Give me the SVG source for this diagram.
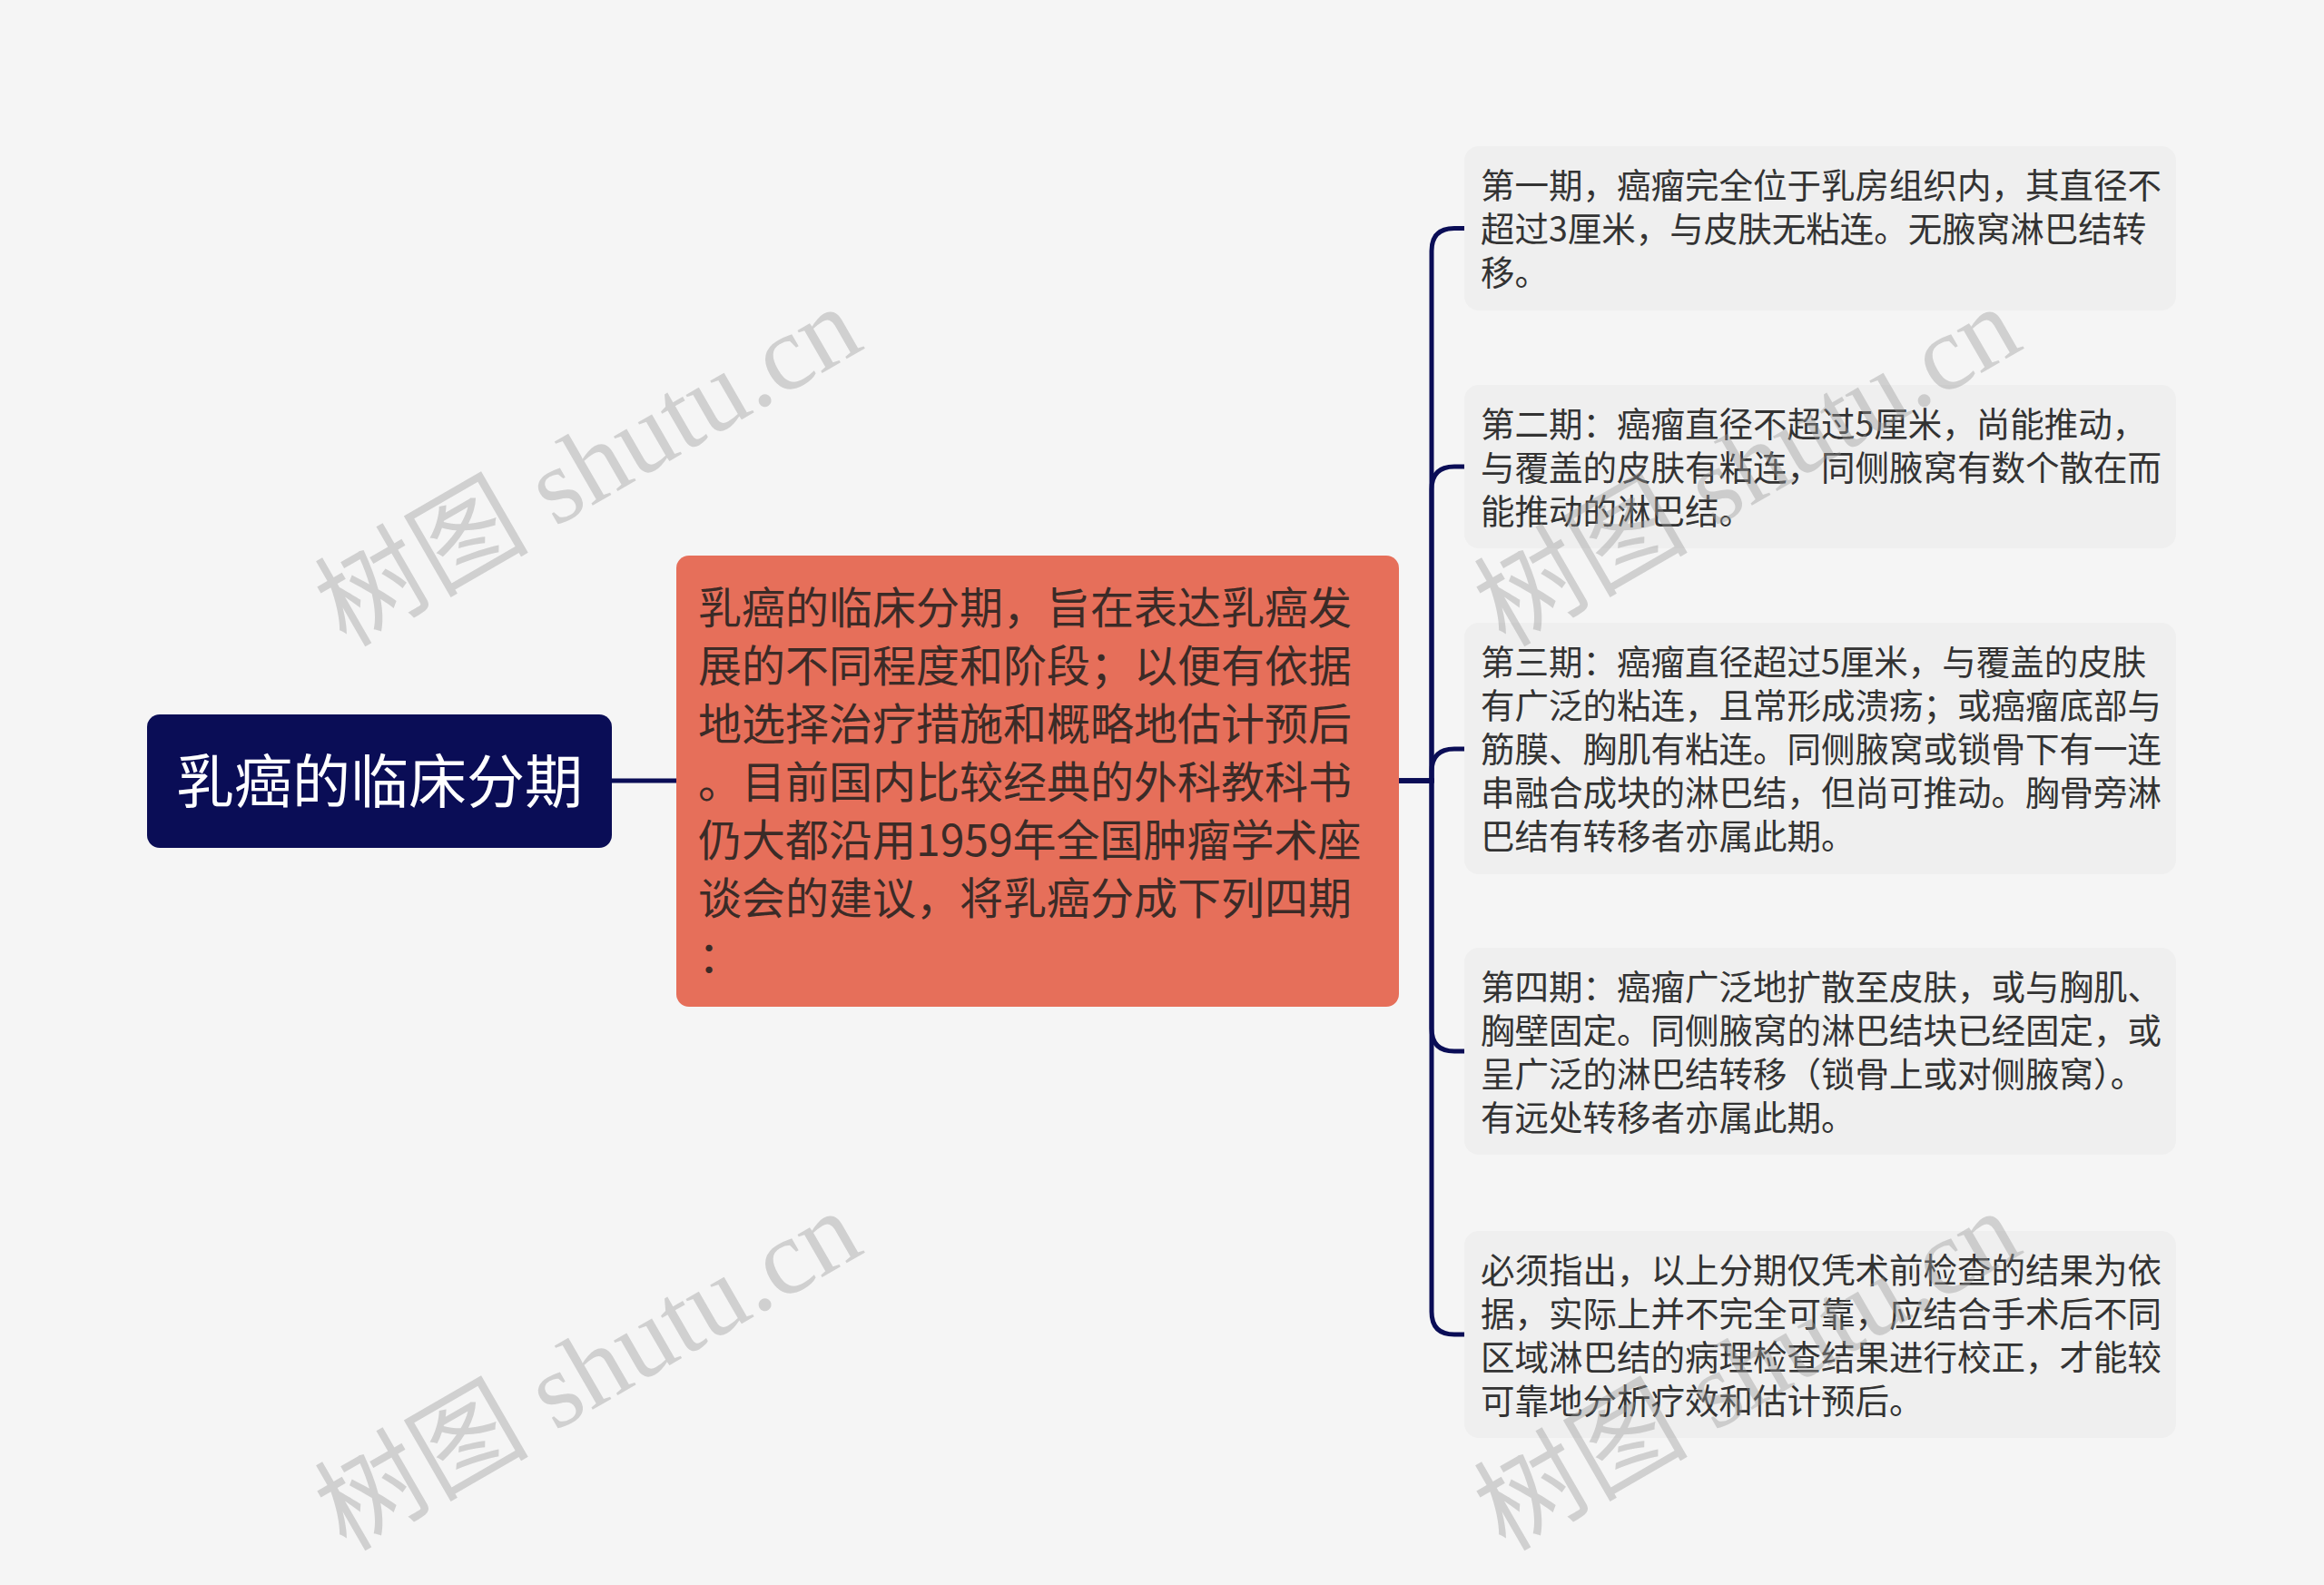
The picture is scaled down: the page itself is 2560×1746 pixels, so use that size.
<svg xmlns="http://www.w3.org/2000/svg" width="2560" height="1746" viewBox="0 0 2560 1746">
<style>
.bg{fill:#f5f5f5}
.root{fill:#0a0d56}
.center{fill:#e66f5a}
.leaf{fill:#efefef}
.conn{fill:none;stroke:#0a0d56;stroke-width:5;stroke-linecap:round}
.t-root{font-family:"Noto Sans CJK SC","Noto Sans",sans-serif;font-size:64px;fill:#ffffff}
.t-center{font-family:"Noto Sans CJK SC","Noto Sans",sans-serif;font-size:48px;fill:#3b2b27}
.t-leaf{font-family:"Noto Sans CJK SC","Noto Sans",sans-serif;font-size:37.5px;fill:#333333}
.wm{font-family:"Liberation Serif","Noto Sans CJK SC",serif;font-size:118px;fill:#999999;fill-opacity:0.4;text-anchor:middle;dominant-baseline:central}
</style>
<rect class="bg" x="0" y="0" width="2560" height="1746"/>
<g id="connectors">
<path class="conn" d="M674,860 H745"/>
<path class="conn" d="M1541,860 H1577 V276.5 Q1577,251.5 1602,251.5 H1613"/>
<path class="conn" d="M1541,860 H1577 V539 Q1577,514 1602,514 H1613"/>
<path class="conn" d="M1541,860 H1577 V850 Q1577,825 1602,825 H1613"/>
<path class="conn" d="M1541,860 H1577 V1133 Q1577,1158 1602,1158 H1613"/>
<path class="conn" d="M1541,860 H1577 V1445 Q1577,1470 1602,1470 H1613"/>
</g>
<g id="node-root">
<rect class="root" x="162" y="787" width="512" height="147" rx="14"/>
<text class="t-root" x="418" y="884" text-anchor="middle">乳癌的临床分期</text>
</g>
<g id="node-center">
<rect class="center" x="745" y="612" width="796" height="497" rx="14"/>
<text class="t-center">
<tspan x="769" y="687">乳癌的临床分期，旨在表达乳癌发</tspan>
<tspan x="769" y="751">展的不同程度和阶段；以便有依据</tspan>
<tspan x="769" y="815">地选择治疗措施和概略地估计预后</tspan>
<tspan x="769" y="879">。目前国内比较经典的外科教科书</tspan>
<tspan x="769" y="943">仍大都沿用1959年全国肿瘤学术座</tspan>
<tspan x="769" y="1007">谈会的建议，将乳癌分成下列四期</tspan>
<tspan x="769" y="1071">：</tspan>
</text>
</g>
<g id="node-1">
<rect class="leaf" x="1613" y="161" width="784" height="181" rx="16"/>
<text class="t-leaf">
<tspan x="1631" y="217.5">第一期，癌瘤完全位于乳房组织内，其直径不</tspan>
<tspan x="1631" y="265.5">超过3厘米，与皮肤无粘连。无腋窝淋巴结转</tspan>
<tspan x="1631" y="313.5">移。</tspan>
</text>
</g>
<g id="node-2">
<rect class="leaf" x="1613" y="424" width="784" height="180" rx="16"/>
<text class="t-leaf">
<tspan x="1631" y="480.5">第二期：癌瘤直径不超过5厘米，尚能推动，</tspan>
<tspan x="1631" y="528.5">与覆盖的皮肤有粘连，同侧腋窝有数个散在而</tspan>
<tspan x="1631" y="576.5">能推动的淋巴结。</tspan>
</text>
</g>
<g id="node-3">
<rect class="leaf" x="1613" y="686" width="784" height="277" rx="16"/>
<text class="t-leaf">
<tspan x="1631" y="742.5">第三期：癌瘤直径超过5厘米，与覆盖的皮肤</tspan>
<tspan x="1631" y="790.5">有广泛的粘连，且常形成溃疡；或癌瘤底部与</tspan>
<tspan x="1631" y="838.5">筋膜、胸肌有粘连。同侧腋窝或锁骨下有一连</tspan>
<tspan x="1631" y="886.5">串融合成块的淋巴结，但尚可推动。胸骨旁淋</tspan>
<tspan x="1631" y="934.5">巴结有转移者亦属此期。</tspan>
</text>
</g>
<g id="node-4">
<rect class="leaf" x="1613" y="1044" width="784" height="228" rx="16"/>
<text class="t-leaf">
<tspan x="1631" y="1100.5">第四期：癌瘤广泛地扩散至皮肤，或与胸肌、</tspan>
<tspan x="1631" y="1148.5">胸壁固定。同侧腋窝的淋巴结块已经固定，或</tspan>
<tspan x="1631" y="1196.5">呈广泛的淋巴结转移（锁骨上或对侧腋窝）。</tspan>
<tspan x="1631" y="1244.5">有远处转移者亦属此期。</tspan>
</text>
</g>
<g id="node-5">
<rect class="leaf" x="1613" y="1356" width="784" height="228" rx="16"/>
<text class="t-leaf">
<tspan x="1631" y="1412.5">必须指出，以上分期仅凭术前检查的结果为依</tspan>
<tspan x="1631" y="1460.5">据，实际上并不完全可靠，应结合手术后不同</tspan>
<tspan x="1631" y="1508.5">区域淋巴结的病理检查结果进行校正，才能较</tspan>
<tspan x="1631" y="1556.5">可靠地分析疗效和估计预后。</tspan>
</text>
</g>
<g id="watermarks">
<text class="wm" transform="translate(648,514) rotate(-30)">树图 shutu.cn</text>
<text class="wm" transform="translate(648,1510) rotate(-30)">树图 shutu.cn</text>
<text class="wm" transform="translate(1925,514) rotate(-30)">树图 shutu.cn</text>
<text class="wm" transform="translate(1925,1510) rotate(-30)">树图 shutu.cn</text>
</g>
</svg>
